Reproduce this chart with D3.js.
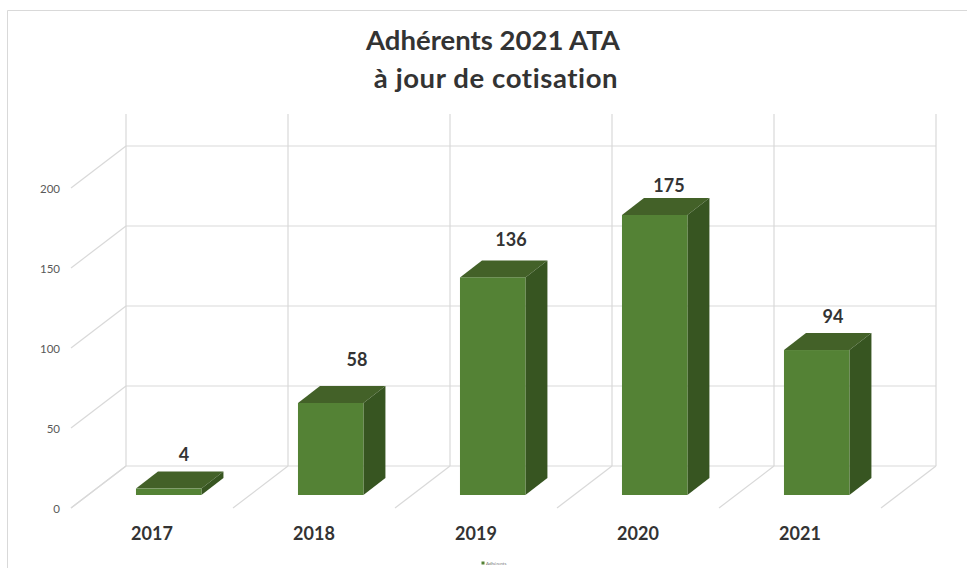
<!DOCTYPE html>
<html>
<head>
<meta charset="utf-8">
<script src="https://cdn.jsdelivr.net/npm/d3@7"></script>
<style>
  html, body { margin: 0; padding: 0; background: #fff; }
  text { font-family: Lato, sans-serif; font-variant-ligatures: none; }
</style>
</head>
<body>
<div id="chart"></div>
<script>
var categories = ["2017", "2018", "2019", "2020", "2021"];
var dataLabels = [4, 58, 136, 175, 94];
// bar heights as drawn: the 2021 and 2018 bars stand a bit lower than their labels
var barValues = [4, 57.5, 136, 175, 90.6];
var yTicks = [0, 50, 100, 150, 200];
var titleLines = ["Adhérents 2021 ATA", "à jour de cotisation"];
var seriesName = "Adhérents";

var width = 967, height = 568;

var grid = "#d9d9d9", front = "#548235", topFace = "#436128", sideFace = "#375521", ink = "#333333";

// 3d box: how far the back wall and a bar's own depth are shifted
var wall = { dx: 55, dy: -42 };
var box = { dx: 22, dy: -17 };
var barShift = { dx: 16.7, dy: -13 };

// hand placed labels in the source, offsets from the bar's front-top corner
var labelDx = [48, 59, 51, 47, 49];
var labelDy = [28, 37, 31, 23, 27];

var svg = d3.select("#chart").append("svg")
    .attr("width", width)
    .attr("height", height)
    .style("display", "block");

svg.append("path")
    .attr("d", "M7.5,568V10.5H967")
    .attr("fill", "none")
    .attr("stroke", grid)
    .attr("stroke-width", 1);

var x = d3.scaleBand()
    .domain(categories)
    .range([71, 881]);

var y = d3.scaleLinear()
    .domain([0, 220])
    .range([508, 156]);

var gridG = svg.append("g")
    .attr("fill", "none")
    .attr("stroke", grid)
    .attr("stroke-width", 1.2);

// back wall horizontals and the left wall diagonals
yTicks.forEach(function(t){
    gridG.append("line")
        .attr("x1", x.range()[0] + wall.dx).attr("x2", x.range()[1] + wall.dx)
        .attr("y1", y(t) + wall.dy).attr("y2", y(t) + wall.dy);
    gridG.append("line")
        .attr("x1", x.range()[0]).attr("x2", x.range()[0] + wall.dx)
        .attr("y1", y(t)).attr("y2", y(t) + wall.dy);
});

// back wall verticals and floor diagonals
var edges = categories.map(function(c){ return x(c); }).concat([x.range()[1]]);
edges.forEach(function(ex){
    gridG.append("line")
        .attr("x1", ex + wall.dx).attr("x2", ex + wall.dx)
        .attr("y1", y(0) + wall.dy).attr("y2", y(220) + wall.dy);
    gridG.append("line")
        .attr("x1", ex).attr("x2", ex + wall.dx)
        .attr("y1", y(0)).attr("y2", y(0) + wall.dy);
});

// value axis
var axis = svg.append("g")
    .attr("transform", "translate(" + (x.range()[0] - 3) + ",1)")
    .call(d3.axisLeft(y).tickValues(yTicks).tickSize(0).tickPadding(8));
axis.select(".domain").remove();
axis.selectAll("text")
    .attr("fill", "#595959")
    .style("font-family", "Lato, sans-serif")
    .style("font-size", "11.5px");

// category labels
svg.append("g").selectAll("text")
    .data(categories)
    .enter().append("text")
    .attr("x", function(d){ return x(d) + x.bandwidth() / 2; })
    .attr("y", 540)
    .attr("text-anchor", "middle")
    .attr("font-size", 18)
    .attr("font-weight", 700)
    .attr("fill", ink)
    .text(function(d){ return d; });

// bars
var barW = x.bandwidth() * 0.404;
var bars = svg.append("g").selectAll("g")
    .data(categories)
    .enter().append("g");

function barLeft(c){ return x(c) + x.bandwidth() / 2 + barShift.dx - barW / 2; }
function barTop(i){ return y(barValues[i]) + barShift.dy; }
var barBase = y(0) + barShift.dy;

bars.append("path")
    .attr("fill", topFace)
    .attr("d", function(c, i){
        var l = barLeft(c), t = barTop(i);
        return "M" + l + "," + t + "l" + box.dx + "," + box.dy + "h" + barW + "l" + (-box.dx) + "," + (-box.dy) + "Z";
    });
bars.append("path")
    .attr("fill", sideFace)
    .attr("d", function(c, i){
        var r = barLeft(c) + barW, t = barTop(i);
        return "M" + r + "," + t + "l" + box.dx + "," + box.dy + "V" + (barBase + box.dy) + "L" + r + "," + barBase + "Z";
    });
bars.append("rect")
    .attr("fill", front)
    .attr("x", barLeft)
    .attr("y", function(c, i){ return barTop(i); })
    .attr("width", barW)
    .attr("height", function(c, i){ return barBase - barTop(i); });

// value labels
bars.append("text")
    .attr("x", function(c, i){ return barLeft(c) + labelDx[i]; })
    .attr("y", function(c, i){ return barTop(i) - labelDy[i]; })
    .attr("text-anchor", "middle")
    .attr("font-size", 18)
    .attr("font-weight", 700)
    .attr("fill", ink)
    .text(function(c, i){ return dataLabels[i]; });

// title
svg.append("g").selectAll("text")
    .data(titleLines)
    .enter().append("text")
    .attr("x", function(d, i){ return i ? 496 : 493; })
    .attr("y", function(d, i){ return 50 + i * 38; })
    .attr("text-anchor", "middle")
    .attr("font-size", 27.5)
    .attr("font-weight", 700)
    .attr("letter-spacing", function(d, i){ return i ? 0.6 : 0; })
    .attr("fill", ink)
    .text(function(d){ return d; });

// legend, tiny in the source
svg.append("rect")
    .attr("x", 481.5).attr("y", 561.5).attr("width", 3).attr("height", 3)
    .attr("fill", front);
svg.append("text")
    .attr("x", 486).attr("y", 565)
    .attr("font-size", 4.5)
    .attr("fill", "#777")
    .text(seriesName);
</script>
</body>
</html>
